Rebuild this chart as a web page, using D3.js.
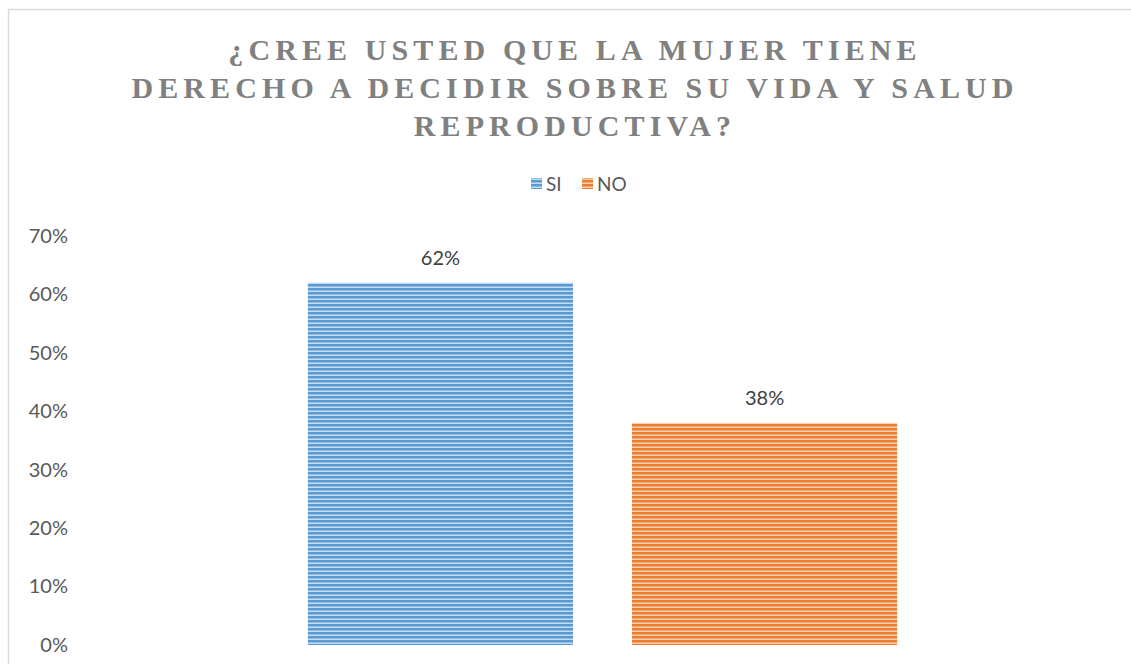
<!DOCTYPE html>
<html><head><meta charset="utf-8">
<script src="https://cdn.jsdelivr.net/npm/d3@7"></script>
<style>
html,body{margin:0;padding:0;background:#fff;}
svg{display:block;}
</style></head>
<body>
<svg id="chart" width="1131" height="664"></svg>
<script>
const titleLines = ["¿CREE USTED QUE LA MUJER TIENE", "DERECHO A DECIDIR SOBRE SU VIDA Y SALUD", "REPRODUCTIVA?"];
const categories = [""];
const seriesNames = ["SI", "NO"];
const seriesValues = [0.62, 0.38];
const seriesColors = ["#5b9bd5", "#ed7d31"];
const seriesLight = ["#c5dcf1", "#f9cfb2"];
const yTicks = [0, 0.1, 0.2, 0.3, 0.4, 0.5, 0.6, 0.7];

const svg = d3.select("#chart");
const W = 1131, H = 664;
const labelFont = "Lato, 'Open Sans', sans-serif";

// border
svg.append("rect").attr("x", 8.5).attr("y", 9.5).attr("width", W + 20).attr("height", H + 20)
  .attr("fill", "#fff").attr("stroke", "#d9d9d9").attr("stroke-width", 1.5);

// patterns
const defs = svg.append("defs");
seriesNames.forEach((s, i) => {
  const p = defs.append("pattern").attr("id", "pat" + i).attr("patternUnits", "userSpaceOnUse")
    .attr("width", 8).attr("height", 4);
  p.append("rect").attr("width", 8).attr("height", 4).attr("fill", seriesLight[i]);
  p.append("rect").attr("y", 0).attr("width", 8).attr("height", 2).attr("fill", seriesColors[i]);
  p.append("rect").attr("y", 2).attr("width", 8).attr("height", 1).attr("fill", d3.interpolateRgb(seriesColors[i], seriesLight[i])(0.5));
});

// title
const title = svg.append("text").attr("text-anchor", "middle")
  .attr("font-family", "'Liberation Serif', 'Times New Roman', serif")
  .attr("font-weight", "bold").attr("font-size", 30).attr("fill", "#808080")
  .attr("letter-spacing", 5.1);
titleLines.forEach((t, i) => {
  title.append("tspan").attr("x", 575).attr("y", 60 + i * 38).text(t);
});

// legend
const legend = svg.append("g").attr("font-family", labelFont).attr("font-size", 19).attr("fill", "#595959");
const legendPos = [531, 582];
seriesNames.forEach((s, i) => {
  legend.append("rect").attr("x", legendPos[i]).attr("y", 178).attr("width", 11).attr("height", 11)
    .attr("fill", "url(#pat" + i + ")");
  legend.append("text").attr("x", legendPos[i] + 15).attr("y", 191).text(s);
});

// scales
const y = d3.scaleLinear().domain([0, 0.7]).range([645, 236]);
const x0 = d3.scaleBand().domain(categories).range([78, 1127]).paddingInner(0).paddingOuter(0.39);
const x1 = d3.scaleBand().domain(seriesNames).range([0, x0.bandwidth()]).paddingInner(0.182).paddingOuter(0);

// y axis labels
const yAxis = d3.axisLeft(y).tickValues(yTicks).tickFormat(d3.format(".0%")).tickSize(0).tickPadding(0);
const ya = svg.append("g").attr("transform", "translate(68,0)").call(yAxis);
ya.select(".domain").remove();
ya.selectAll("text").attr("font-family", labelFont).attr("font-size", 20).attr("fill", "#595959");

// bars
const g = svg.append("g").attr("transform", `translate(${x0(categories[0])},0)`);
g.selectAll("rect.bar").data(seriesNames).join("rect").attr("class", "bar")
  .attr("x", d => x1(d)).attr("width", x1.bandwidth())
  .attr("y", (d, i) => y(seriesValues[i])).attr("height", (d, i) => y(0) - y(seriesValues[i]))
  .attr("fill", (d, i) => "url(#pat" + i + ")");

// data labels
g.selectAll("text.lbl").data(seriesNames).join("text").attr("class", "lbl")
  .attr("x", d => x1(d) + x1.bandwidth() / 2)
  .attr("y", (d, i) => y(seriesValues[i]) - 18)
  .attr("text-anchor", "middle").attr("font-family", labelFont).attr("font-size", 20).attr("fill", "#404040")
  .text((d, i) => d3.format(".0%")(seriesValues[i]));
</script>
</body></html>
